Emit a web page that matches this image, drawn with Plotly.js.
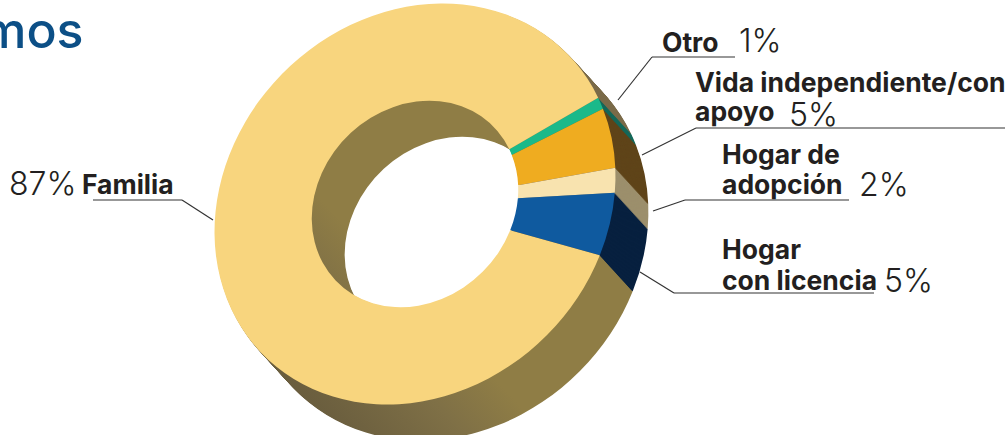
<!DOCTYPE html>
<html><head><meta charset="utf-8">
<script src="https://cdn.plot.ly/plotly-3.0.1.min.js"></script>
<style>html,body{margin:0;padding:0;background:#fff;overflow:hidden;width:1008px;height:435px}#c{width:1008px;height:470px}</style>
</head><body><div id="c"></div>
<script>
const categories = ["Otro","Vida independiente/con apoyo","Hogar de adopción","Hogar con licencia","Familia"];
const values = [1,5,2,5,87];
const faceColors = ["#1bb98a","#efac20","#f8e3af","#0f5a9f","#f8d57e"];
const wallColors = ["#14685a","#5f4419","#9c8f6c","#07203f","#8f7d45"];
const W=1008,H=470,R=200,CX=415,CY=204,DX=35.6,DY=38.5,STEPS=36,TILT=0.07;
const dom=(cx,cy)=>({x:[(cx-R)/W,(cx+R)/W],y:[1-(cy+R)/H,1-(cy-R)/H]});
const pie=(cx,cy,colors)=>({type:"pie",labels:categories,values:values,sort:false,direction:"clockwise",rotation:62,
  hole:0.515,textinfo:"none",hoverinfo:"label+percent",showlegend:false,domain:dom(cx,cy),
  marker:{colors:colors,line:{width:0}}});
const traces=[];
for(let i=STEPS;i>=1;i--) traces.push(pie(CX+DX*i/STEPS,CY+DY*i/STEPS,wallColors));
traces.push(pie(CX,CY,faceColors));

const BOLD={family:"Inter, sans-serif",size:26.5,color:"#231f20",weight:700};
const LIGHT={family:"Inter, sans-serif",size:32,color:"#231f20",weight:300};
const texts=[
 ["mos",85,30,"right",{family:"Inter, sans-serif",size:50,color:"#0c4f86",weight:500}],
 ["87%",8,183,"left",LIGHT],["Familia",81,184,"left",BOLD],
 ["Otro",661,42,"left",BOLD],["1%",738,40,"left",LIGHT],
 ["Vida independiente/con",694,82,"left",BOLD],["apoyo",694,111,"left",BOLD],["5%",788,114,"left",LIGHT],
 ["Hogar de",721,154,"left",BOLD],["adopción",721,184,"left",BOLD],["2%",858,184,"left",LIGHT],
 ["Hogar",721,249,"left",BOLD],["con licencia",721,280,"left",BOLD],["5%",883,280,"left",LIGHT]
];
const leaders=[
 [[93,200],[182,200],[213,220]],
 [[735,57],[652,57],[618,100]],
 [[1005,128],[696,128],[642,155]],
 [[849,200],[685,200],[653,211]],
 [[874,293],[674,293],[640,272]]
];
const px=(x,y)=>[x/W,1-y/H];
const annotations=texts.map(([t,x,y,a,f])=>({text:t,xref:"paper",yref:"paper",x:x/W,y:1-y/H,xanchor:a,yanchor:"middle",showarrow:false,font:f,borderpad:0}));
const shapes=[];
leaders.forEach(l=>{for(let i=0;i<l.length-1;i++){const[a,b]=px(...l[i]),[c,d]=px(...l[i+1]);
 shapes.push({type:"line",xref:"paper",yref:"paper",x0:a,y0:b,x1:c,y1:d,line:{color:"#333",width:1.2}});}});
Plotly.newPlot("c",traces,{width:W,height:H,margin:{l:0,r:0,t:0,b:0},paper_bgcolor:"#fff",annotations,shapes},{staticPlot:true,displayModeBar:false}).then(()=>{
 const svg=document.querySelector("#c .main-svg");
 const NS="http://www.w3.org/2000/svg";
 const g=document.createElementNS(NS,"linearGradient");
 g.setAttribute("id","wallShade");
 [["x1",0],["y1",1],["x2",1],["y2",0]].forEach(([k,v])=>g.setAttribute(k,v));
 [[0.13,"#675b3d"],[0.30,"#7f7046"],[0.40,"#8f7d45"],[0.72,"#8f7d45"],[0.85,"#7a6a48"]].forEach(([o,c])=>{
  const s=document.createElementNS(NS,"stop");s.setAttribute("offset",o);s.setAttribute("stop-color",c);g.appendChild(s);});
 svg.querySelector("defs").appendChild(g);
 const tr=document.querySelectorAll("#c .pielayer .trace");
 tr.forEach((t,i)=>{ if(i<tr.length-1){const sl=t.querySelectorAll(".slice path.surface");
   const p=sl[sl.length-1]; if(p) p.style.fill="url(#wallShade)";}});
 // perspective tilt of the ring, as in the reference
 document.querySelector("#c .pielayer").setAttribute("transform",
  `matrix(1,${-TILT},${-TILT},1,${TILT*CY},${TILT*CX})`);
});
</script></body></html>
